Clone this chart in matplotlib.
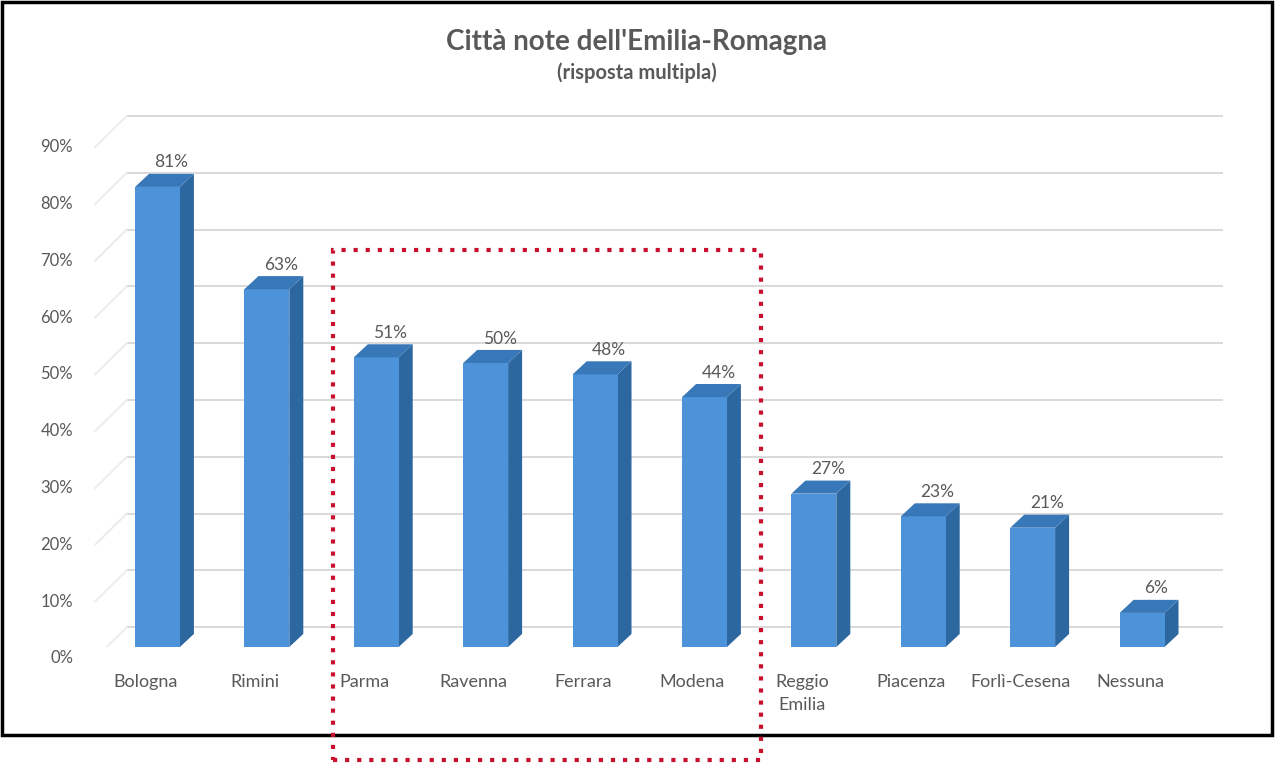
import matplotlib.pyplot as plt
from matplotlib.patches import Polygon, Rectangle

plt.rcParams['font.family'] = ['Lato', 'DejaVu Sans']

# data
cities = ['Bologna', 'Rimini', 'Parma', 'Ravenna', 'Ferrara', 'Modena',
          'Reggio\nEmilia', 'Piacenza', 'Forlì-Cesena', 'Nessuna']
values = [81, 63, 51, 50, 48, 44, 27, 23, 21, 6]
yticks = [0, 10, 20, 30, 40, 50, 60, 70, 80, 90]

title = "Città note dell'Emilia-Romagna"
subtitle = '(risposta multipla)'

text_col = '#595959'
front_col = '#4d93d9'
side_col = '#2c679f'
top_col = '#3877b8'
grid_col = '#d9d9d9'

W, H = 1275, 763
fig = plt.figure(figsize=(W / 100, H / 100), dpi=100)

# axes placed so that category i sits at its pixel position
ax = fig.add_axes([80.9 / W, 1 - 647 / H, (1229.6 - 80.9) / W, 539.6 / H])
ax.set_xlim(-0.7, 9.8)
ax.set_ylim(0, 95)
ax.axis('off')

bw = 0.41      # front face width
dx = 0.128     # depth offset (x)
dy = 2.3       # depth offset (y, in %)
wall = 3.5     # back wall shift in %
wall_left, wall_right = -0.28, 9.73

# back wall gridlines + faint side wall lines
for t in yticks:
    ax.plot([wall_left, wall_right], [t + wall, t + wall], color=grid_col, lw=1.4, zorder=1)
    ax.plot([-0.57, wall_left], [t - 2, t + wall], color='#ececec', lw=1.4, zorder=1)
    ax.text(-0.772, t - 2, f'{t}%', ha='right', va='center', fontsize=12, color=text_col)

x = list(range(len(values)))
ax.bar(x, values, width=bw, color=front_col, zorder=3)

for i, v in zip(x, values):
    x0, x1 = i - bw / 2, i + bw / 2
    side = Polygon([(x1, 0), (x1 + dx, dy), (x1 + dx, v + dy), (x1, v)],
                   closed=True, facecolor=side_col, edgecolor='none', zorder=2)
    top = Polygon([(x0, v), (x1, v), (x1 + dx, v + dy), (x0 + dx, v + dy)],
                  closed=True, facecolor=top_col, edgecolor='none', zorder=4)
    ax.add_patch(side)
    ax.add_patch(top)
    ax.text(i + dx, v + dy + 0.6, f'{v}%', ha='center', va='bottom',
            fontsize=12.5, color=text_col)
    ax.text(i - 0.11, -4.7, cities[i], ha='center', va='top', fontsize=13,
            color=text_col, linespacing=1.55)

fig.text(637 / W, 1 - 42 / H, title, ha='center', va='center',
         fontsize=20, fontweight='bold', color=text_col)
fig.text(637 / W, 1 - 73 / H, subtitle, ha='center', va='center',
         fontsize=14.5, fontweight='bold', color=text_col)

# outer black frame
fig.patches.append(Rectangle((2 / W, 1 - 735 / H), 1270 / W, 733 / H,
                             transform=fig.transFigure, fill=False,
                             edgecolor='black', lw=2.5))
# red dotted highlight box
fig.patches.append(Rectangle((333 / W, 1 - 760 / H), 428 / W, 510 / H,
                             transform=fig.transFigure, fill=False,
                             edgecolor='#c8102e', lw=3, linestyle=(0, (1, 1.9))))

fig.savefig('out.png', dpi=100)
